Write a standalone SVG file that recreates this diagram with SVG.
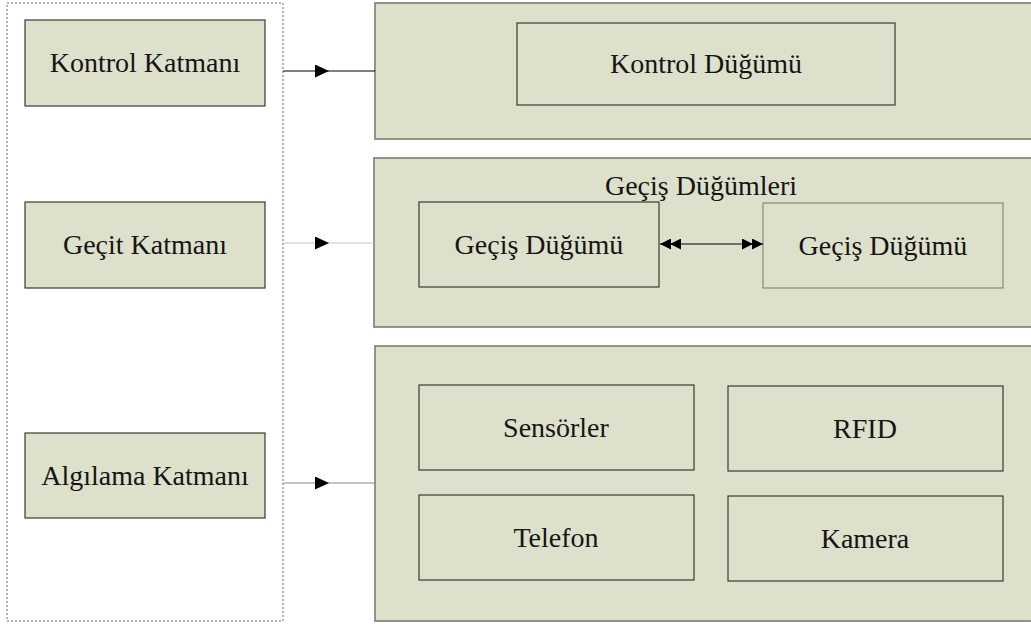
<svg xmlns="http://www.w3.org/2000/svg" width="1031" height="625" viewBox="0 0 1031 625">
  <style>
    .layer { fill: #dde0cb; stroke: #3a3a30; stroke-width: 1.2; }
    .panel { fill: #dde0cb; stroke: #7d7d70; stroke-width: 1.6; }
    .node { fill: #dde0cb; stroke: #3a3a30; stroke-width: 1.2; }
    .label { font-family: 'Liberation Serif', 'DejaVu Serif', serif; font-size: 28px; fill: #151515; text-anchor: middle; }
    .frame { fill: #ffffff; stroke: #6a6a6a; stroke-width: 1; stroke-dasharray: 2 2; }
  </style>
  <defs>
    <marker id="arrow" markerUnits="userSpaceOnUse" markerWidth="14" markerHeight="13" refX="14" refY="6.5" orient="auto">
      <path d="M0,0 L14,6.5 L0,13 Z" fill="#000"/>
    </marker>
    <marker id="dbl" markerUnits="userSpaceOnUse" markerWidth="21" markerHeight="11" refX="21" refY="5.5" orient="auto-start-reverse">
      <path d="M0,0 L11,5.5 L0,11 Z M10,0 L21,5.5 L10,11 Z" fill="#000"/>
    </marker>
  </defs>

  <rect width="1031" height="625" fill="#ffffff"/>

  <!-- layer column -->
  <rect id="layer-frame" class="frame" x="7" y="3" width="276" height="618"/>

  <g id="kontrol-katmani">
    <rect class="layer" x="25" y="20" width="240" height="86"/>
    <text class="label" x="145" y="72" font-family="Liberation Serif, DejaVu Serif, serif">Kontrol Katmanı</text>
  </g>
  <g id="gecit-katmani">
    <rect class="layer" x="25" y="202" width="240" height="86"/>
    <text class="label" x="145" y="254" font-family="Liberation Serif, DejaVu Serif, serif">Geçit Katmanı</text>
  </g>
  <g id="algilama-katmani">
    <rect class="layer" x="25" y="433" width="240" height="85"/>
    <text class="label" x="145" y="485" font-family="Liberation Serif, DejaVu Serif, serif">Algılama Katmanı</text>
  </g>

  <!-- right-hand panels -->
  <g id="kontrol-panel">
    <rect class="panel" x="375" y="3" width="660" height="136"/>
    <g id="kontrol-dugumu">
      <rect class="node" x="517" y="23" width="378" height="82"/>
      <text class="label" x="706" y="73" font-family="Liberation Serif, DejaVu Serif, serif">Kontrol Düğümü</text>
    </g>
  </g>

  <g id="gecis-panel">
    <rect class="panel" x="374" y="158" width="661" height="169"/>
    <text class="label" x="701" y="195" font-family="Liberation Serif, DejaVu Serif, serif">Geçiş Düğümleri</text>
    <g id="gecis-dugumu-1">
      <rect class="node" x="419" y="202" width="240" height="85"/>
      <text class="label" x="539" y="254" font-family="Liberation Serif, DejaVu Serif, serif">Geçiş Düğümü</text>
    </g>
    <g id="gecis-dugumu-2">
      <rect class="node" x="763" y="203" width="240" height="85" style="stroke:#8a8a7e"/>
      <text class="label" x="883" y="255" font-family="Liberation Serif, DejaVu Serif, serif">Geçiş Düğümü</text>
    </g>
  </g>

  <g id="algilama-panel">
    <rect class="panel" x="375" y="346" width="660" height="275"/>
    <g id="sensorler">
      <rect class="node" x="419" y="385" width="275" height="85"/>
      <text class="label" x="556" y="437" font-family="Liberation Serif, DejaVu Serif, serif">Sensörler</text>
    </g>
    <g id="rfid">
      <rect class="node" x="728" y="386" width="275" height="85"/>
      <text class="label" x="865" y="438" font-family="Liberation Serif, DejaVu Serif, serif">RFID</text>
    </g>
    <g id="telefon">
      <rect class="node" x="419" y="495" width="275" height="85"/>
      <text class="label" x="556" y="547" font-family="Liberation Serif, DejaVu Serif, serif">Telefon</text>
    </g>
    <g id="kamera">
      <rect class="node" x="728" y="496" width="275" height="85"/>
      <text class="label" x="865" y="548" font-family="Liberation Serif, DejaVu Serif, serif">Kamera</text>
    </g>
  </g>

  <!-- connectors -->
  <g id="connectors" fill="none">
    <polyline points="283,71 329,71 375,71" stroke="#000" stroke-width="1" marker-mid="url(#arrow)"/>
    <polyline points="283,243 329,243 374,243" stroke="#c4c4c4" stroke-width="1" marker-mid="url(#arrow)"/>
    <polyline points="283,483 329,483 375,483" stroke="#8a8a8a" stroke-width="1" marker-mid="url(#arrow)"/>
    <line x1="660" y1="244" x2="763" y2="244" stroke="#000" stroke-width="1" marker-start="url(#dbl)" marker-end="url(#dbl)"/>
  </g>
</svg>
